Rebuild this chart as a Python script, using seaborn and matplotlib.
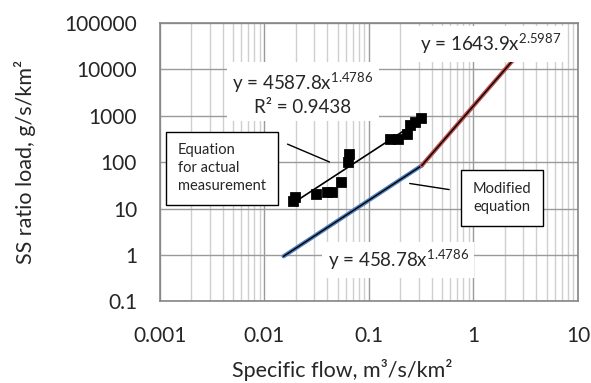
import matplotlib
matplotlib.use('Agg')
import matplotlib.pyplot as plt
import seaborn as sns

# measured points (specific flow, SS ratio load)
flow = [0.0186, 0.0196, 0.0309, 0.0399, 0.0440, 0.0543, 0.0634, 0.0644,
        0.159, 0.1905, 0.2296, 0.2465, 0.2754, 0.3127]
load = [14.8, 17.5, 20.3, 22.5, 22.5, 38.0, 99.5, 150,
        316, 312, 399, 634, 724, 883]

# trend line of the measurements  y = 4587.8x^1.4786
fit_x = [0.0186, 0.3127]
fit_y = [13.0, 823]
# modified equation, low part  y = 458.78x^1.4786
low_x = [0.0152, 0.32]
low_y = [0.94, 85]
# modified equation, high part  y = 1643.9x^2.5987
high_x = [0.32, 3.0]
high_y = [85, 28560]

x_ticks = [0.001, 0.01, 0.1, 1, 10]
x_labels = ['0.001', '0.01', '0.1', '1', '10']
y_ticks = [0.1, 1, 10, 100, 1000, 10000, 100000]
y_labels = ['0.1', '1', '10', '100', '1000', '10000', '100000']

sns.set_style('white')
plt.rcParams['font.family'] = ['Lato', 'DejaVu Sans']
plt.rcParams['mathtext.fontset'] = 'custom'
plt.rcParams['mathtext.rm'] = 'Lato'
plt.rcParams['mathtext.it'] = 'Lato:italic'
plt.rcParams['mathtext.bf'] = 'Lato:bold'

fig, ax = plt.subplots(figsize=(5.91, 3.83), dpi=100)
fig.subplots_adjust(left=0.2707, right=0.978, bottom=0.2128, top=0.94)
ax.set_xscale('log')
ax.set_yscale('log')

sns.lineplot(x=fit_x, y=fit_y, color='black', lw=1.2, ax=ax)
sns.lineplot(x=low_x, y=low_y, color='#4f81bd', lw=3, ax=ax)
sns.lineplot(x=low_x, y=low_y, color='black', lw=1, ax=ax)
sns.lineplot(x=high_x, y=high_y, color='#c0504d', lw=3, ax=ax)
sns.lineplot(x=high_x, y=high_y, color='black', lw=1, ax=ax)
sns.scatterplot(x=flow, y=load, marker='s', color='black', edgecolor='black',
                s=48, ax=ax, zorder=4)

ax.set_xlim(0.001, 10)
ax.set_ylim(0.1, 100000)
ax.set_xticks(x_ticks)
ax.set_xticklabels(x_labels)
ax.set_yticks(y_ticks)
ax.set_yticklabels(y_labels)
ax.xaxis.set_minor_locator(matplotlib.ticker.LogLocator(base=10, subs=range(2, 10)))
ax.yaxis.set_minor_locator(matplotlib.ticker.NullLocator())
ax.tick_params(which='both', length=0, labelsize=15)
ax.tick_params(axis='x', pad=17.5)
ax.tick_params(axis='y', pad=16.5)
ax.grid(which='major', color='#9a9a9a', lw=1)
ax.grid(which='minor', axis='x', color='#cfcfcf', lw=1)
for s in ax.spines.values():
    s.set_color('#868686')
    s.set_linewidth(1.2)

ax.set_xlabel('Specific flow, m³/s/km²', fontsize=15.5)
ax.set_ylabel('SS ratio load, g/s/km²', fontsize=15.5)
ax.xaxis.set_label_coords(0.435, -0.205)
ax.yaxis.set_label_coords(-0.296, 0.5)

white = dict(facecolor='white', edgecolor='none', pad=4)
ax.text(0.0233, 3100, 'y = 4587.8x$^{1.4786}$\nR² = 0.9438', fontsize=13.5,
        ha='center', va='center', multialignment='center', linespacing=1.3, bbox=white)
ax.text(1.47, 35270, 'y = 1643.9x$^{2.5987}$', fontsize=13.5,
        ha='center', va='center', bbox=white)
ax.text(0.190, 0.78, 'y = 458.78x$^{1.4786}$', fontsize=13.5,
        ha='center', va='center', bbox=white)

boxed = dict(boxstyle='square,pad=0.8', facecolor='white', edgecolor='black', lw=1)
ax.text(0.001486, 75, 'Equation\nfor actual\nmeasurement', fontsize=10.5,
        ha='left', va='center', linespacing=1.35, bbox=boxed)
ax.text(0.989, 16.9, 'Modified\nequation', fontsize=10.5,
        ha='left', va='center', linespacing=1.35, bbox=boxed)
ax.annotate('', xy=(0.0443, 96), xytext=(0.0157, 259),
            arrowprops=dict(arrowstyle='-', color='black', lw=1))
ax.annotate('', xy=(0.622, 25.2), xytext=(0.231, 35.6),
            arrowprops=dict(arrowstyle='-', color='black', lw=1))

plt.savefig('out.png', dpi=100)
